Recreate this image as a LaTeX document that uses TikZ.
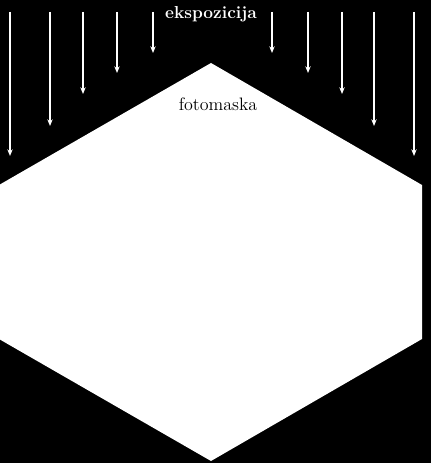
\documentclass[tikz,border=0pt]{standalone}
\usepackage{tikz}
\usetikzlibrary{arrows.meta}

\begin{document}
\begin{tikzpicture}[x=0.75pt, y=-0.75pt,
  ray/.style={white, line width=1.1pt, -{Stealth[length=5pt, width=4pt]}}]
\fill[black] (0, 0) rectangle (431, 463);
\useasboundingbox (0, 0) rectangle (431, 463);

% fotomaska
\fill[white] (211, 63) -- (422, 185) -- (422, 339) -- (211, 461)
  -- (-1, 339) -- (-1, 185) -- cycle;

% ekspozicija
\draw[ray] (10, 12) -- (10, 156);
\draw[ray] (50, 12) -- (50, 126);
\draw[ray] (83, 12) -- (83, 94);
\draw[ray] (117, 12) -- (117, 73);
\draw[ray] (153, 12) -- (153, 53);

\draw[ray] (272, 12) -- (272, 53);
\draw[ray] (308, 12) -- (308, 73);
\draw[ray] (342, 12) -- (342, 94);
\draw[ray] (374, 12) -- (374, 126);
\draw[ray] (414, 12) -- (414, 156);

\node[white, font=\fontsize{13}{15}\selectfont\bfseries] (eksp) at (211, 14) {ekspozicija};
\node[black, font=\fontsize{13.5}{16}\selectfont] (maska) at (218, 104) {fotomaska};
\end{tikzpicture}
\end{document}
